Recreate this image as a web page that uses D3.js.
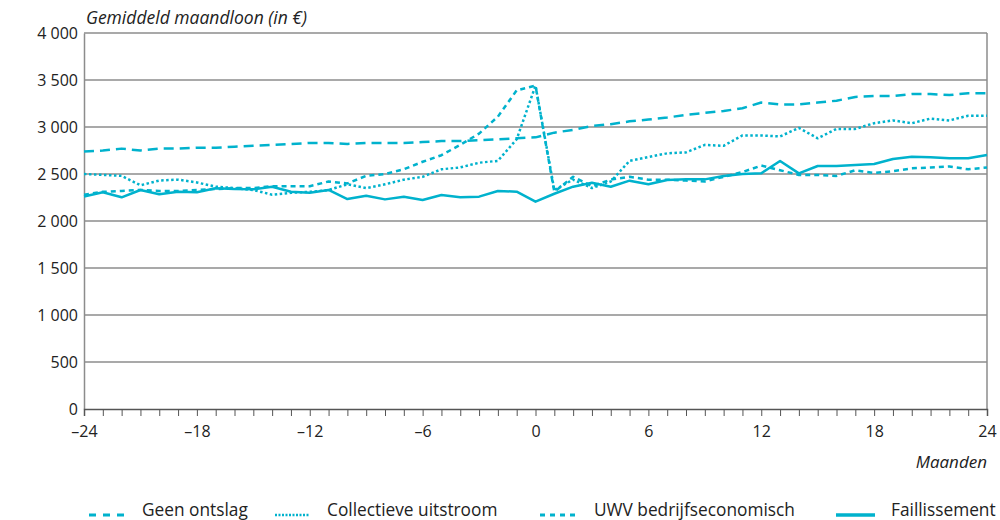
<!DOCTYPE html>
<html><head><meta charset="utf-8">
<script src="https://cdn.jsdelivr.net/npm/d3@7"></script>
<style>body{margin:0;background:#fff}svg{display:block;font-family:"Open Sans",sans-serif}</style>
</head><body><svg id="c" width="1000" height="520"></svg>
<script>
const months = d3.range(-24, 25);
const geenOntslag = [2740,2750,2770,2750,2770,2770,2780,2780,2790,2800,2810,2820,2830,2830,2820,2830,2830,2830,2840,2850,2850,2860,2870,2880,2890,2940,2970,3010,3030,3060,3080,3100,3130,3150,3170,3200,3260,3240,3240,3260,3280,3320,3330,3330,3350,3350,3340,3360,3360];
const collectieve = [2500,2490,2480,2380,2430,2440,2410,2365,2350,2330,2280,2300,2310,2330,2390,2350,2390,2440,2470,2550,2570,2620,2640,2870,3440,2330,2440,2350,2420,2640,2680,2720,2730,2810,2800,2910,2910,2900,2990,2880,2980,2980,3040,3070,3040,3090,3070,3120,3120];
const uwv = [2280,2310,2320,2330,2320,2320,2330,2340,2350,2350,2370,2370,2370,2420,2400,2480,2500,2550,2630,2700,2810,2930,3110,3390,3440,2310,2470,2370,2440,2470,2440,2440,2430,2420,2470,2520,2590,2540,2490,2490,2480,2540,2510,2530,2560,2570,2580,2550,2570];
const faillissement = [2260,2305,2252,2330,2284,2312,2305,2348,2340,2337,2365,2312,2301,2330,2234,2269,2230,2259,2223,2277,2252,2259,2319,2312,2206,2290,2365,2407,2365,2429,2390,2436,2443,2443,2479,2500,2507,2638,2507,2585,2585,2596,2606,2660,2684,2677,2667,2667,2702];
const seriesNames = ["Geen ontslag","Collectieve uitstroom","UWV bedrijfseconomisch","Faillissement"];
const seriesValues = [geenOntslag, collectieve, uwv, faillissement];
const xTicks = [-24,-18,-12,-6,0,6,12,18,24];
const yTicks = [0,500,1000,1500,2000,2500,3000,3500,4000];

const dashes = ["10,6","2.5,2.5","5,4",null];
const legendDashes = ["7,7","2,1.5","5,5",null];
const legendWidths = [3,2.5,3,3.5];
const color = "#00b2cd";

const svg = d3.select("#c");
const x = d3.scaleLinear().domain([-24,24]).range([84,987]);
const y = d3.scaleLinear().domain([0,4000]).range([409,33]);
const fmt = v => d3.format(",")(v).replace(/,/g," ");

svg.append("g").selectAll("line").data(yTicks.filter(d=>d>0)).join("line")
  .attr("x1",x(-24)).attr("x2",x(24)).attr("y1",d=>y(d)).attr("y2",d=>y(d))
  .attr("stroke","#8c8c8c").attr("stroke-width",1.5);
svg.append("line").attr("x1",x(24)).attr("x2",x(24)).attr("y1",y(4000)).attr("y2",y(0))
  .attr("stroke","#8c8c8c").attr("stroke-width",1.5);

const yAxis = svg.append("g").attr("transform",`translate(${x(-24)},0)`)
  .call(d3.axisLeft(y).tickValues(yTicks).tickFormat(fmt).tickSize(0));
yAxis.select(".domain").attr("stroke","#8c8c8c").attr("stroke-width",1.5);
yAxis.selectAll("text").attr("font-size",16).attr("fill","#222").attr("font-family","Open Sans, sans-serif").attr("text-anchor","end").attr("x",-6);

const xAxis = svg.append("g").attr("transform",`translate(0,${y(0)})`)
  .call(d3.axisBottom(x).tickValues(months).tickSize(7).tickFormat(d=> xTicks.includes(d) ? (d<0?"\u2013"+Math.abs(d):d) : ""));
xAxis.select(".domain").attr("stroke","#555").attr("stroke-width",1.5);
xAxis.selectAll(".tick line").attr("stroke","#555").attr("stroke-width",1);
xAxis.selectAll("text").attr("font-size",16).attr("fill","#222").attr("font-family","Open Sans, sans-serif").attr("dy","1.1em");

svg.append("text").attr("x",86).attr("y",24).attr("font-style","italic").attr("font-size",17.5).attr("fill","#222").text("Gemiddeld maandloon (in €)");
svg.append("text").attr("x",987).attr("y",468).attr("text-anchor","end").attr("font-style","italic").attr("font-size",17).attr("fill","#222").text("Maanden");

const line = d3.line().x((d,i)=>x(months[i])).y(d=>y(d));
svg.append("g").selectAll("path").data(seriesValues).join("path")
  .attr("d",line).attr("fill","none").attr("stroke",color)
  .attr("stroke-width",2.5).attr("stroke-linejoin","round")
  .attr("stroke-dasharray",(d,i)=>dashes[i]);

const legX = [89,275,540,836];
const lg = svg.append("g").selectAll("g").data(seriesNames).join("g")
  .attr("transform",(d,i)=>`translate(${legX[i]},511)`);
lg.append("line").attr("x1",0).attr("x2",(d,i)=>i==1?34:39).attr("y1",4).attr("y2",4)
  .attr("stroke",color).attr("stroke-width",(d,i)=>legendWidths[i])
  .attr("stroke-dasharray",(d,i)=>legendDashes[i]);
lg.append("text").attr("x",(d,i)=>[53,52,54,55][i]).attr("y",5).attr("font-size",17.3).attr("fill","#222").text(d=>d);
</script></body></html>
